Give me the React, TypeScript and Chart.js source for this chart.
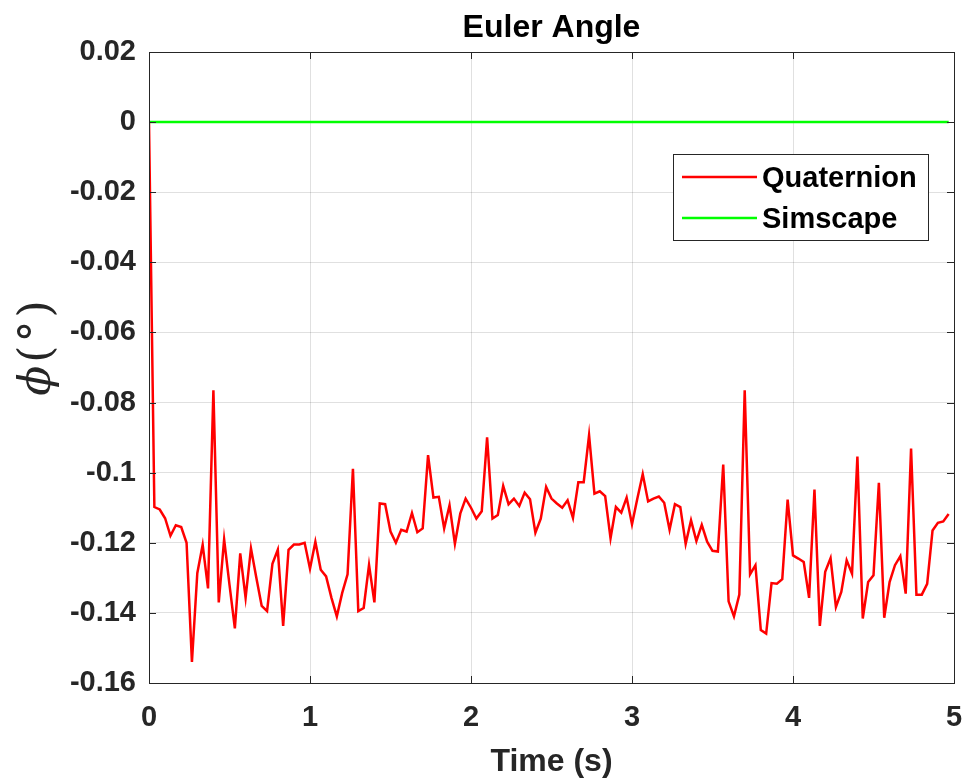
import React, { useEffect, useRef } from "react";
import { Chart, registerables } from "chart.js";

Chart.register(...registerables);

// ---- data ----
const SAMPLE_STEP = 1 / 30; // seconds between Quaternion samples
const quaternionAngle = [
  0,
  -0.1098, -0.1105, -0.113, -0.118, -0.115, -0.1155, -0.12, -0.154, -0.1287, -0.1206,
  -0.133, -0.0765, -0.137, -0.119, -0.132, -0.1444, -0.123, -0.1357, -0.1216, -0.13,
  -0.138, -0.1395, -0.126, -0.122, -0.1437, -0.122, -0.1205, -0.1205, -0.12, -0.1274,
  -0.1197, -0.1277, -0.1296, -0.1357, -0.141, -0.1343, -0.129,
  -0.0989, -0.1395, -0.1386, -0.1263, -0.137, -0.1088, -0.109, -0.1168, -0.12, -0.1163,
  -0.1168, -0.1115, -0.117, -0.1159, -0.095, -0.1071, -0.1069, -0.1159, -0.1093, -0.1203,
  -0.1117, -0.1074, -0.11, -0.1131, -0.111, -0.0899, -0.1131, -0.1121, -0.1038, -0.109,
  -0.1074, -0.1095, -0.1057, -0.1076, -0.1171, -0.1131, -0.1041,
  -0.1074, -0.1088, -0.11, -0.1079, -0.1129, -0.1027, -0.1027, -0.0893, -0.106, -0.1053,
  -0.1067, -0.1187, -0.1098, -0.1114, -0.1071, -0.1147, -0.1074, -0.1004, -0.1082, -0.1074,
  -0.1068, -0.1086, -0.1163, -0.109, -0.1098, -0.1203, -0.1136, -0.1195, -0.1149, -0.1197,
  -0.1223, -0.1225, -0.0977, -0.1367, -0.141, -0.1348, -0.0765, -0.129,
  -0.1264, -0.1449, -0.1459, -0.1315, -0.1317, -0.1304, -0.1077, -0.1236, -0.1245, -0.1255,
  -0.1357, -0.1048, -0.1437, -0.1283, -0.1244, -0.1383, -0.134, -0.125, -0.1288, -0.0954,
  -0.1416, -0.1312, -0.1293, -0.1029, -0.1414, -0.1312, -0.1264, -0.1238, -0.1345, -0.0931,
  -0.1348, -0.1348, -0.1317, -0.1165, -0.1143, -0.1139, -0.1118,
];
const quaternionTime = quaternionAngle.map((_, i) => i * SAMPLE_STEP);
const simscapeTime = [0, 4.967];
const simscapeAngle = [0, 0];

const xTicks = [0, 1, 2, 3, 4, 5];
const yMin = -0.16;
const yMax = 0.02;
const yStep = 0.02;

const seriesNames = ["Quaternion", "Simscape"];
const seriesColors = ["#ff0000", "#00ff00"];

const titleText = "Euler Angle";
const xTitle = "Time (s)";
const yTitleParts = ["\u03D5", "(", "\u00B0", ")"];

const SANS = "'Liberation Sans', Arial, Helvetica, sans-serif";
const AXIS_COLOR = "#262626";

const matlabPlugin = {
  id: "matlabDecor",
  afterDatasetsDraw(chart: any) {
    const { ctx, chartArea } = chart;
    const { left, right, top, bottom } = chartArea;
    const xs = chart.scales.x;
    const ys = chart.scales.y;
    ctx.save();
    // box
    ctx.strokeStyle = AXIS_COLOR;
    ctx.lineWidth = 1;
    ctx.strokeRect(Math.round(left) + 0.5, Math.round(top) + 0.5, Math.round(right - left), Math.round(bottom - top));
    // inner ticks
    const TL = 7;
    ctx.beginPath();
    xs.ticks.forEach((t: any) => {
      const px = Math.round(xs.getPixelForValue(t.value)) + 0.5;
      ctx.moveTo(px, bottom);
      ctx.lineTo(px, bottom - TL);
      ctx.moveTo(px, top);
      ctx.lineTo(px, top + TL);
    });
    ys.ticks.forEach((t: any) => {
      const py = Math.round(ys.getPixelForValue(t.value)) + 0.5;
      ctx.moveTo(left, py);
      ctx.lineTo(left + TL, py);
      ctx.moveTo(right, py);
      ctx.lineTo(right - TL, py);
    });
    ctx.stroke();

    // legend
    const lx = 673.5, ly = 154.5, lw = 255, lh = 86;
    ctx.fillStyle = "#ffffff";
    ctx.fillRect(lx, ly, lw, lh);
    ctx.strokeStyle = AXIS_COLOR;
    ctx.strokeRect(lx, ly, lw, lh);
    const rowY = [177, 218];
    chart.data.datasets.forEach((ds: any, i: number) => {
      ctx.strokeStyle = ds.borderColor;
      ctx.lineWidth = 2.5;
      ctx.beginPath();
      ctx.moveTo(682, rowY[i]);
      ctx.lineTo(757, rowY[i]);
      ctx.stroke();
      ctx.fillStyle = "#000000";
      ctx.font = `bold 29px ${SANS}`;
      ctx.textAlign = "left";
      ctx.textBaseline = "alphabetic";
      ctx.fillText(ds.label, 762, rowY[i] + 10);
    });

    // title
    const cx = (left + right) / 2;
    ctx.fillStyle = "#000000";
    ctx.font = `bold 32px ${SANS}`;
    ctx.textAlign = "center";
    ctx.textBaseline = "alphabetic";
    ctx.fillText(titleText, cx, 37);
    // x title
    ctx.fillStyle = AXIS_COLOR;
    ctx.fillText(xTitle, cx, 771);
    // y title (rotated)
    ctx.save();
    ctx.translate(50, 348);
    ctx.rotate(-Math.PI / 2);
    ctx.textBaseline = "alphabetic";
    ctx.textAlign = "left";
    const fonts = yTitleParts.map((_, i) =>
      i === 0 ? `italic 44px 'DejaVu Serif', serif` : `44px 'DejaVu Serif', serif`
    );
    const gap = 3;
    const widths = yTitleParts.map((p, i) => {
      ctx.font = fonts[i];
      return ctx.measureText(p).width;
    });
    const total = widths.reduce((a, b) => a + b, 0) + gap * (yTitleParts.length - 1);
    let pos = -total / 2;
    yTitleParts.forEach((p, i) => {
      ctx.font = fonts[i];
      ctx.fillText(p, pos, 0);
      pos += widths[i] + gap;
    });
    ctx.restore();
    ctx.restore();
  },
};

export default function App() {
  const ref = useRef<HTMLCanvasElement | null>(null);
  useEffect(() => {
    if (!ref.current) return;
    const chart = new Chart(ref.current, {
      type: "line",
      data: {
        datasets: [
          {
            label: seriesNames[0],
            data: quaternionTime.map((t, i) => ({ x: t, y: quaternionAngle[i] })),
            borderColor: seriesColors[0],
            backgroundColor: seriesColors[0],
            borderWidth: 2.5,
            pointRadius: 0,
            tension: 0,
            order: 1,
          },
          {
            label: seriesNames[1],
            data: simscapeTime.map((t, i) => ({ x: t, y: simscapeAngle[i] })),
            borderColor: seriesColors[1],
            backgroundColor: seriesColors[1],
            borderWidth: 2.5,
            pointRadius: 0,
            tension: 0,
            order: 0,
          },
        ],
      },
      plugins: [matlabPlugin],
      options: {
        animation: false,
        responsive: false,
        layout: { padding: { left: 0, right: 18, top: 52, bottom: 0 } },
        plugins: {
          legend: { display: false },
          title: { display: false },
          tooltip: { enabled: false },
        },
        scales: {
          x: {
            type: "linear",
            min: xTicks[0],
            max: xTicks[xTicks.length - 1],
            afterBuildTicks: (scale: any) => {
              scale.ticks = xTicks.map((v) => ({ value: v }));
            },
            afterFit: (scale: any) => {
              scale.height = 100;
              scale.paddingLeft = 0;
              scale.paddingRight = 0;
            },
            grid: { color: "rgba(0,0,0,0.12)", drawTicks: false, lineWidth: 1 },
            border: { display: false },
            ticks: {
              font: { family: SANS, size: 29, weight: "bold" },
              color: AXIS_COLOR,
              padding: 18,
              maxRotation: 0,
              callback: (v: any) => String(v),
            },
          },
          y: {
            type: "linear",
            min: yMin,
            max: yMax,
            afterFit: (scale: any) => {
              scale.width = 149;
              scale.paddingTop = 0;
              scale.paddingBottom = 0;
            },
            grid: { color: "rgba(0,0,0,0.12)", drawTicks: false, lineWidth: 1 },
            border: { display: false },
            ticks: {
              stepSize: yStep,
              font: { family: SANS, size: 29, weight: "bold" },
              color: AXIS_COLOR,
              padding: 13,
              callback: (v: any) => {
                const r = Math.round(Number(v) * 100) / 100;
                return r === 0 ? "0" : String(r);
              },
            },
          },
        },
      },
    });
    return () => chart.destroy();
  }, []);
  return (
    <div style={{ position: "absolute", left: 0, top: 0, width: 972, height: 783, background: "#fff" }}>
      <canvas ref={ref} width={972} height={783} style={{ display: "block" }} />
    </div>
  );
}
